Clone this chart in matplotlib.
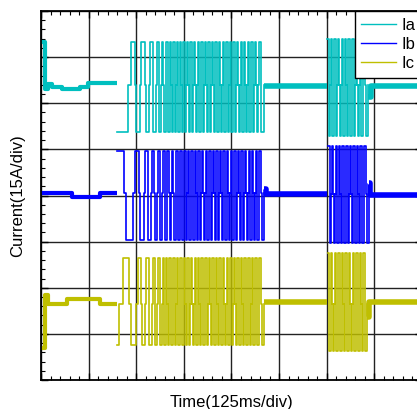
import numpy as np
import matplotlib
matplotlib.use('Agg')
import matplotlib.pyplot as plt
from matplotlib.ticker import MultipleLocator, AutoMinorLocator, NullFormatter
from matplotlib.lines import Line2D

plt.rcParams['font.family'] = ['Liberation Sans', 'DejaVu Sans']

# time in ms (125 ms/div), current in A (15 A/div)
names = ['Ia', 'Ib', 'Ic']
colors = ['#00bfbf', '#0000ff', '#bfbf00']

# --- Ia ---
ia_pre_t = [0, 10.5, 18.4, 28.9, 55.1, 102.4, 123.4, 199.6]
ia_pre_y = [50.0, 34.7, 36.3, 35.3, 34.7, 35.3, 36.6, 36.6]
ia_lead_t = [199.6, 228.5]
ia_lead_y = [20.7, 36.0]
ia_cyc1 = [235.6, 262.6, 286.2, 303.8, 317.0, 328.3, 338.8, 347.4, 356.4, 365.0,
           373.7, 382.6, 392, 401, 411, 420, 430, 439, 448, 458, 467, 477, 486,
           495, 505, 514, 524, 533, 542, 552, 561, 571]
ia_end1 = 585.6
ia_lvl1 = (50.0, 36.0, 20.7)
ia_mid_t = [585.6, 751.0]
ia_mid_y = [35.6, 35.6]
ia_cyc2 = [751, 760, 770, 779, 789, 798, 807, 817, 826, 836, 845]
ia_end2 = 858.7
ia_lvl2 = (51.0, 36.0, 19.4)
ia_post_t = [858.7, 866.6, 1000]
ia_post_y = [32.1, 35.7, 35.7]

# --- Ib ---
ib_pre_t = [0, 81.4, 154.9, 200.4]
ib_pre_y = [0.8, -0.5, 0.8, 0.8]
ib_lead_t = []
ib_lead_y = []
ib_cyc1 = [200.4, 246.8, 273.1, 290.7, 306.5, 319.6, 331.7, 343.2, 354.5, 365.0,
           375.5, 385.2, 394, 404, 413, 422, 432, 441, 451, 460, 469, 479, 488,
           498, 507, 516, 526, 535, 545, 554, 563, 573]
ib_end1 = 585.6
ib_lvl1 = (14.5, 0.8, -14.4)
ib_mid_t = [585.6, 591.0, 751.0]
ib_mid_y = [2.1, 0.4, 0.4]
ib_cyc2 = [754, 763, 773, 782, 791, 801, 810, 820, 829, 838, 848]
ib_end2 = 861.3
ib_lvl2 = (16.1, 0.4, -15.3)
ib_post_t = [861.3, 864.0, 1000]
ib_post_y = [4.1, 0.2, 0.2]

# --- Ic ---
ic_pre_t = [0, 10.5, 18.4, 68.3, 154.9, 199.6]
ic_pre_y = [-49.6, -32.3, -35.3, -33.6, -35.3, -35.3]
ic_lead_t = [199.6, 204.8]
ic_lead_y = [-48.6, -35.3]
ic_cyc1 = [216.1, 253.9, 275.7, 293.3, 306.5, 319.6, 328.3, 336.9, 347.4, 356.4,
           365.0, 375.5, 384.2, 393, 403, 412, 421, 431, 440, 450, 459, 468, 478,
           487, 497, 506, 515, 525, 534, 544, 553, 562, 572]
ic_end1 = 585.6
ic_lvl1 = (-20.3, -35.3, -48.6)
ic_mid_t = [585.6, 751.0]
ic_mid_y = [-34.6, -34.6]
ic_cyc2 = [752, 761, 771, 780, 790, 799, 808, 818, 827, 837, 846]
ic_end2 = 856.0
ic_lvl2 = (-18.7, -35.3, -50.6)
ic_post_t = [856.0, 861.3, 1000]
ic_post_y = [-39.5, -34.6, -34.6]


def burst(lead_t, lead_y, starts, end, lvl):
    hi, md, lo = lvl
    t = list(lead_t)
    y = list(lead_y)
    for i, s in enumerate(starts):
        n = starts[i + 1] if i + 1 < len(starts) else end
        p = n - s
        t += [s, s + 0.4 * p, s + 0.5 * p, s + 0.9 * p]
        y += [hi, md, lo, md]
    t.append(end)
    y.append(md)
    return t, y


phases = [
    (ia_pre_t, ia_pre_y, ia_lead_t, ia_lead_y, ia_cyc1, ia_end1, ia_lvl1,
     ia_mid_t, ia_mid_y, ia_cyc2, ia_end2, ia_lvl2, ia_post_t, ia_post_y),
    (ib_pre_t, ib_pre_y, ib_lead_t, ib_lead_y, ib_cyc1, ib_end1, ib_lvl1,
     ib_mid_t, ib_mid_y, ib_cyc2, ib_end2, ib_lvl2, ib_post_t, ib_post_y),
    (ic_pre_t, ic_pre_y, ic_lead_t, ic_lead_y, ic_cyc1, ic_end1, ic_lvl1,
     ic_mid_t, ic_mid_y, ic_cyc2, ic_end2, ic_lvl2, ic_post_t, ic_post_y),
]

fig = plt.figure(figsize=(4.17, 4.09), dpi=100)
ax = fig.add_axes([41 / 417, 29 / 409, 381 / 417, 369 / 409])

for ph, c in zip(phases, colors):
    (pre_t, pre_y, lead_t, lead_y, cyc1, end1, lvl1,
     mid_t, mid_y, cyc2, end2, lvl2, post_t, post_y) = ph
    ax.step(pre_t, pre_y, where='post', color=c, lw=3.0, solid_capstyle='butt')
    for st, sy in [(mid_t, mid_y), (post_t, post_y)]:
        ax.step(st, sy, where='post', color=c, lw=4.0, solid_capstyle='butt')
    t1, y1 = burst(lead_t, lead_y, cyc1, end1, lvl1)
    ax.step(t1, y1, where='post', color=c, lw=1.2)
    t2, y2 = burst([], [], cyc2, end2, lvl2)
    ax.step(t2, y2, where='post', color=c, lw=1.2)

ax.set_xlim(0, 1000)
ax.set_ylim(-60, 60)
ax.xaxis.set_major_locator(MultipleLocator(125))
ax.yaxis.set_major_locator(MultipleLocator(15))
ax.xaxis.set_minor_locator(AutoMinorLocator(5))
ax.yaxis.set_minor_locator(AutoMinorLocator(5))
ax.xaxis.set_major_formatter(NullFormatter())
ax.yaxis.set_major_formatter(NullFormatter())
ax.tick_params(which='both', direction='in', top=True, right=True)
ax.tick_params(which='major', length=5, width=1)
ax.tick_params(which='minor', length=3, width=0.8)
ax.grid(True, color='#222222', lw=1.0)
ax.set_axisbelow(True)
for s in ax.spines.values():
    s.set_linewidth(1.3)

ax.set_xlabel('Time(125ms/div)', fontsize=12, labelpad=7)
ax.set_ylabel('Current(15A/div)', fontsize=12, labelpad=8)

handles = [Line2D([], [], color=c, lw=1.0) for c in colors]
leg = ax.legend(handles, names, loc='upper right', bbox_to_anchor=(1, 1),
                borderaxespad=0, fancybox=False, edgecolor='k', framealpha=1,
                fontsize=12, handlelength=2.1, handletextpad=0.3,
                labelspacing=0.25, borderpad=0.4)
leg.get_frame().set_linewidth(1.0)

fig.savefig('out.png', dpi=100)
